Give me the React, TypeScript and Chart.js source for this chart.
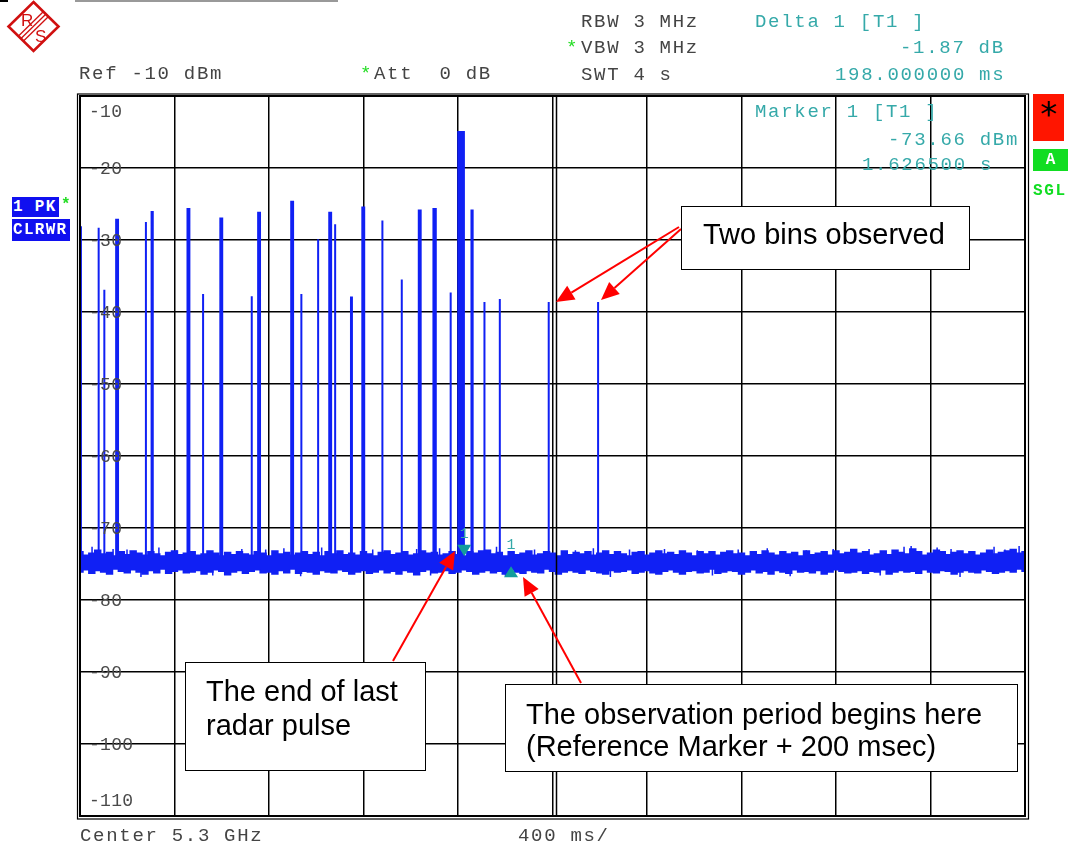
import React, { useEffect, useRef } from 'react';
import { Chart, registerables } from 'chart.js';

Chart.register(...registerables);

// Sweep axis: 0 .. 4 s, 400 ms per division
const sweepStart = 0;
const sweepEnd = 4;
const sweepDivision = 0.4;

// Level axis (dBm)
const levelTop = -10;
const levelBottom = -110;
const yTickValues = [-10, -20, -30, -40, -50, -60, -70, -80, -90, -100, -110];
const yTickLabels = ['-10', '-20', '-30', '-40', '-50', '-60', '-70', '-80', '-90', '-100', '-110'];

// Noise floor envelope, one sample every 25 ms (dBm)
const noiseStep = 0.025;
const noiseUpper = [
  -73.3, -73.8, -73.5, -73.1, -73.6, -73.4, -73.9, -73.3, -73.7, -73.2,
  -73.5, -73.8, -73.3, -73.6, -73.9, -73.4, -73.2, -73.7, -73.5, -73.3,
  -73.8, -73.6, -73.2, -73.5, -73.9, -73.4, -73.7, -73.3, -73.6, -73.8,
  -73.3, -73.5, -73.9, -73.2, -73.6, -73.4, -73.8, -73.5, -73.3, -73.7,
  -73.4, -73.9, -73.3, -73.6, -73.2, -73.7, -73.5, -73.8, -73.3, -73.6,
  -73.9, -73.4, -73.2, -73.7, -73.5, -73.3, -73.8, -73.6, -73.2, -73.5,
  -73.4, -73.8, -73.6, -73.3, -73.7, -73.9, -73.3, -73.5, -73.2, -73.1,
  -73.6, -73.4, -73.9, -73.3, -73.7, -73.5, -73.2, -73.8, -73.6, -73.3,
  -73.5, -73.9, -73.2, -73.7, -73.4, -73.6, -73.3, -73.8, -73.5, -73.2,
  -73.7, -73.3, -73.6, -73.9, -73.4, -73.3, -73.8, -73.5, -73.2, -73.6,
  -73.4, -73.7, -73.2, -73.5, -73.9, -73.3, -73.6, -73.3, -73.8, -73.4,
  -73.2, -73.6, -73.5, -73.9, -73.3, -73.7, -73.2, -73.5, -73.8, -73.3,
  -73.6, -73.4, -73.9, -73.2, -73.7, -73.5, -73.3, -73.8, -73.2, -73.6,
  -73.4, -73.0, -73.5, -73.3, -73.8, -73.6, -73.2, -73.7, -73.1, -73.4,
  -73.6, -72.9, -73.3, -73.8, -73.5, -73.1, -73.3, -73.7, -73.4, -73.2,
  -73.6, -73.3, -73.8, -73.5, -73.1, -73.6, -73.4, -73.2, -73.0, -73.5,
  -73.3,
];
const noiseLower = [
  -76.1, -75.8, -76.3, -75.9, -76.1, -76.4, -75.7, -76.0, -76.2, -75.8,
  -76.1, -76.4, -75.9, -76.2, -75.7, -76.3, -76.0, -75.8, -76.2, -76.1,
  -75.9, -76.4, -76.1, -75.8, -76.0, -76.5, -76.1, -75.9, -76.3, -76.0,
  -75.8, -76.2, -76.1, -76.4, -75.9, -76.2, -75.7, -76.3, -76.0, -76.1,
  -76.4, -75.9, -76.1, -76.2, -75.8, -76.0, -76.4, -76.1, -75.9, -76.3,
  -76.1, -75.8, -76.2, -76.0, -76.4, -75.9, -76.1, -76.5, -76.0, -75.8,
  -76.2, -76.1, -75.9, -76.3, -76.1, -75.8, -76.0, -76.4, -76.1, -75.9,
  -76.2, -76.0, -76.4, -75.8, -76.1, -76.3, -75.9, -76.1, -76.2, -75.7,
  -76.0, -76.4, -76.1, -75.9, -76.1, -76.3, -75.8, -76.0, -76.2, -76.4,
  -75.9, -76.1, -76.0, -75.8, -76.3, -76.1, -75.9, -76.2, -76.4, -76.0,
  -75.8, -76.1, -76.4, -76.0, -75.9, -76.2, -76.1, -75.7, -76.3, -76.1,
  -75.9, -76.0, -76.4, -76.1, -75.8, -76.2, -76.0, -76.4, -75.9, -76.1,
  -76.3, -75.8, -76.1, -76.0, -76.2, -75.9, -76.4, -76.1, -75.8, -76.0,
  -76.2, -76.1, -75.9, -76.3, -76.0, -76.1, -75.8, -76.4, -76.1, -75.9,
  -76.1, -76.0, -76.3, -75.8, -76.1, -76.2, -75.9, -76.0, -76.4, -76.1,
  -75.9, -76.1, -76.2, -75.8, -76.0, -76.3, -76.1, -75.9, -76.1, -75.7,
  -76.0,
];

// Single-sample glitches sticking out of the noise floor: time (s), level (dBm)
const glitchTime = [
  0.051, 0.140, 0.199, 0.334, 0.410, 0.685, 0.786, 0.863, 1.023, 1.239,
  1.425, 1.522, 1.763, 1.924, 2.097, 2.173, 2.326, 2.474, 2.613, 2.786,
  2.909, 3.074, 3.188, 3.340, 3.488, 3.518, 3.628, 3.687, 3.869, 3.915,
  3.975, 0.258, 0.562, 0.934, 1.484, 1.801, 2.245, 2.677, 3.006, 3.387,
  3.725,
];
const glitchLevel = [
  -72.6, -72.9, -73.0, -72.7, -73.1, -72.9, -73.0, -72.8, -72.7, -73.0,
  -72.9, -72.8, -72.6, -73.0, -73.1, -72.8, -73.0, -72.9, -73.1, -73.0,
  -72.8, -73.1, -72.9, -72.9, -72.6, -72.5, -72.7, -72.9, -72.6, -73.0,
  -72.5, -76.8, -76.6, -76.7, -76.6, -76.7, -76.8, -76.6, -76.7, -76.6,
  -76.8,
];
const glitchFoot = -74.8;

// Radar bursts: start time (s), duration (s), peak level (dBm)
const pulseStart = [
  0.004, 0.079, 0.103, 0.153, 0.279, 0.303, 0.455, 0.521, 0.594, 0.727,
  0.754, 0.894, 0.937, 1.008, 1.055, 1.080, 1.147, 1.195, 1.280, 1.362,
  1.434, 1.496, 1.569, 1.601, 1.657, 1.712, 1.777, 1.984, 2.193,
];
const pulseLength = [
  0, 0, 0, 0.008, 0, 0.005, 0.008, 0, 0.008, 0,
  0.008, 0.008, 0, 0, 0.008, 0, 0.004, 0.008, 0, 0,
  0.008, 0.010, 0, 0.024, 0.005, 0, 0, 0, 0,
];
const pulsePeak = [
  -28.1, -28.3, -36.9, -27.2, -27.5, -26.1, -25.7, -37.5, -27.0, -37.8,
  -26.2, -24.7, -37.5, -29.9, -26.2, -27.8, -38.0, -25.5, -27.3, -35.5,
  -25.9, -25.7, -37.3, -15.0, -25.9, -38.6, -38.2, -38.6, -38.6,
];
const pulseFoot = -74.6;

// Reference marker and delta marker (time in s, level in dBm)
const markerTime = [1.6265, 1.8245];
const markerLevel = [-73.66, -75.53];
const markerLabel = ['1', '1'];

const TRACE = '#1020f4';
const TEAL = '#35a9a9';
const MARKER = '#139c9c';

const analyzerOverlay = {
  id: 'analyzerOverlay',
  afterDraw(chart: any) {
    const { ctx, chartArea: a, scales } = chart;
    const xs = scales.x;
    const ys = scales.y;
    ctx.save();
    // double frame round the screen
    ctx.strokeStyle = '#000';
    ctx.lineWidth = 2;
    ctx.strokeRect(a.left, a.top, a.right - a.left, a.bottom - a.top);
    ctx.lineWidth = 1.2;
    ctx.strokeRect(a.left - 2.5, a.top - 2, a.right - a.left + 6, a.bottom - a.top + 5);
    // the centre graticule line is drawn twice
    const cx = Math.round(xs.getPixelForValue((sweepStart + sweepEnd) / 2)) + 3.5;
    ctx.lineWidth = 1.5;
    ctx.beginPath();
    ctx.moveTo(cx, a.top);
    ctx.lineTo(cx, a.bottom);
    ctx.stroke();

    // level labels inside the screen
    ctx.font = '18px "Liberation Mono", monospace';
    (ctx as any).letterSpacing = '0.3px';
    ctx.fillStyle = '#4a4a4a';
    ctx.textBaseline = 'middle';
    ctx.textAlign = 'left';
    yTickValues.forEach((v, i) => {
      let py = ys.getPixelForValue(v);
      if (py < a.top + 8) py = a.top + 15;
      if (py > a.bottom - 8) py = a.bottom - 16;
      ctx.fillText(yTickLabels[i], a.left + 9, py + 1);
    });

    // markers
    ctx.font = '15px "Liberation Mono", monospace';
    (ctx as any).letterSpacing = '0px';
    ctx.textAlign = 'center';
    markerTime.forEach((t, i) => {
      const px = xs.getPixelForValue(t);
      const py = ys.getPixelForValue(markerLevel[i]);
      ctx.fillStyle = MARKER;
      ctx.beginPath();
      if (i === 0) {
        ctx.moveTo(px - 7, py - 9.5);
        ctx.lineTo(px + 7, py - 9.5);
        ctx.lineTo(px, py + 2);
      } else {
        ctx.moveTo(px - 7, py + 9.5);
        ctx.lineTo(px + 7, py + 9.5);
        ctx.lineTo(px, py - 1.5);
      }
      ctx.closePath();
      ctx.fill();
      ctx.fillStyle = TEAL;
      ctx.fillText(markerLabel[i], px, i === 0 ? py - 20 : py - 23);
    });
    ctx.restore();
  },
};

const monoStyle = (left: number, cy: number, color: string): React.CSSProperties => ({
  position: 'absolute',
  left,
  top: cy - 9,
  fontFamily: '"Liberation Mono", monospace',
  fontSize: 19,
  letterSpacing: '1.7px',
  lineHeight: '20px',
  whiteSpace: 'pre',
  color,
});

const noteStyle = (left: number, top: number, width: number, height: number): React.CSSProperties => ({
  position: 'absolute',
  left,
  top,
  width,
  height,
  boxSizing: 'border-box',
  border: '1.5px solid #000',
  background: '#fff',
});

const noteText = (left: number, cy: number): React.CSSProperties => ({
  position: 'absolute',
  left,
  top: cy - 16,
  fontFamily: '"Liberation Sans", Arial, sans-serif',
  fontSize: 29,
  lineHeight: '34px',
  whiteSpace: 'pre',
  color: '#000',
});

const arrowLines: number[][] = [
  [679, 227, 556, 302],
  [681, 229, 601, 300],
  [393, 661, 455, 551],
  [581, 683, 523, 577],
];

function Arrow({ l }: { l: number[] }) {
  const [x1, y1, x2, y2] = l;
  const dx = x2 - x1;
  const dy = y2 - y1;
  const len = Math.hypot(dx, dy);
  const ux = dx / len;
  const uy = dy / len;
  const headL = 18;
  const headW = 8;
  const bx = x2 - ux * headL;
  const by = y2 - uy * headL;
  const pts = `${x2},${y2} ${bx - uy * headW},${by + ux * headW} ${bx + uy * headW},${by - ux * headW}`;
  return (
    <g>
      <line x1={x1} y1={y1} x2={bx} y2={by} stroke="#ff0000" strokeWidth={2} />
      <polygon points={pts} fill="#ff0000" />
    </g>
  );
}

export default function App() {
  const ref = useRef<HTMLCanvasElement | null>(null);

  useEffect(() => {
    if (!ref.current) return;
    const upper = noiseUpper.map((v, i) => ({ x: i * noiseStep, y: v }));
    const lower = noiseLower.map((v, i) => ({ x: i * noiseStep, y: v }));
    const bursts: { x: number; y: number | null }[] = [];
    pulseStart.forEach((t, i) => {
      const t2 = t + pulseLength[i];
      bursts.push(
        { x: t, y: pulseFoot },
        { x: t, y: pulsePeak[i] },
        { x: t2, y: pulsePeak[i] },
        { x: t2, y: pulseFoot },
        { x: t2, y: null }
      );
    });
    const glitches: { x: number; y: number | null }[] = [];
    glitchTime.forEach((t, i) => {
      glitches.push({ x: t, y: glitchFoot }, { x: t, y: glitchLevel[i] }, { x: t, y: null });
    });

    const chart = new Chart(ref.current, {
      type: 'line',
      data: {
        datasets: [
          {
            data: upper,
            borderColor: TRACE,
            backgroundColor: TRACE,
            borderWidth: 1.5,
            pointRadius: 0,
            stepped: 'middle',
            fill: '+1',
          },
          {
            data: lower,
            borderColor: TRACE,
            backgroundColor: TRACE,
            borderWidth: 1.5,
            pointRadius: 0,
            stepped: 'middle',
            fill: false,
          },
          {
            data: glitches as any,
            borderColor: TRACE,
            borderWidth: 1.5,
            pointRadius: 0,
            spanGaps: false,
            fill: false,
          },
          {
            data: bursts as any,
            borderColor: TRACE,
            backgroundColor: TRACE,
            borderWidth: 2,
            pointRadius: 0,
            spanGaps: false,
            fill: { value: pulseFoot },
          },
        ],
      },
      options: {
        animation: false,
        responsive: false,
        maintainAspectRatio: false,
        events: [],
        layout: { padding: { left: 80, top: 96, right: 47, bottom: 31 } },
        plugins: { legend: { display: false }, tooltip: { enabled: false } },
        elements: { line: { tension: 0 } },
        scales: {
          x: {
            type: 'linear',
            min: sweepStart,
            max: sweepEnd,
            ticks: { display: false, stepSize: sweepDivision },
            grid: { color: '#000', lineWidth: 1.5, drawTicks: false },
            border: { display: false },
          },
          y: {
            type: 'linear',
            min: levelBottom,
            max: levelTop,
            ticks: { display: false, stepSize: 10 },
            grid: { color: '#000', lineWidth: 1.5, drawTicks: false },
            border: { display: false },
          },
        },
      },
      plugins: [analyzerOverlay],
    });
    return () => chart.destroy();
  }, []);

  return (
    <div style={{ position: 'absolute', left: 0, top: 0, width: 1072, height: 847, background: '#fff', overflow: 'hidden' }}>
      <canvas ref={ref} width={1072} height={847} style={{ position: 'absolute', left: 0, top: 0 }} />

      {/* top strip */}
      <div style={{ position: 'absolute', left: 0, top: 0, width: 8, height: 2, background: '#000' }} />
      <div style={{ position: 'absolute', left: 75, top: 0, width: 263, height: 2, background: '#999' }} />

      {/* R&S logo */}
      <svg width={70} height={56} style={{ position: 'absolute', left: 0, top: 0 }}>
        <polygon points="33.5,2 58.5,26.5 33.5,51 8.5,26.5" fill="none" stroke="#d01010" strokeWidth={2.6} />
        <line x1={43.5} y1={11.5} x2={18.5} y2={36} stroke="#d01010" strokeWidth={1.3} />
        <line x1={46} y1={14} x2={21} y2={38.5} stroke="#d01010" strokeWidth={1.3} />
        <line x1={48.5} y1={16.5} x2={23.5} y2={41} stroke="#d01010" strokeWidth={1.3} />
        <text x={21} y={26} fontFamily="Liberation Sans, Arial, sans-serif" fontSize={17} fill="#d01010">R</text>
        <text x={35} y={42} fontFamily="Liberation Sans, Arial, sans-serif" fontSize={17} fill="#d01010">S</text>
      </svg>

      {/* instrument settings */}
      <div style={monoStyle(581, 21, '#444')}>RBW 3 MHz</div>
      <div style={monoStyle(566, 47, '#22dd22')}>*</div>
      <div style={monoStyle(581, 47, '#444')}>VBW 3 MHz</div>
      <div style={monoStyle(581, 74, '#444')}>SWT 4 s</div>
      <div style={monoStyle(79, 73, '#444')}>Ref -10 dBm</div>
      <div style={monoStyle(360, 73, '#22dd22')}>*</div>
      <div style={monoStyle(374, 73, '#444')}>Att  0 dB</div>

      <div style={monoStyle(755, 21, TEAL)}>Delta 1 [T1 ]</div>
      <div style={monoStyle(900, 47, TEAL)}>-1.87 dB</div>
      <div style={monoStyle(835, 74, TEAL)}>198.000000 ms</div>

      <div style={monoStyle(755, 111, TEAL)}>Marker 1 [T1 ]</div>
      <div style={monoStyle(888, 139, TEAL)}>-73.66 dBm</div>
      <div style={monoStyle(862, 164, TEAL)}>1.626500 s</div>

      <div style={monoStyle(80, 835, '#444')}>Center 5.3 GHz</div>
      <div style={monoStyle(518, 835, '#444')}>400 ms/</div>

      {/* trace badges */}
      <div style={{ position: 'absolute', left: 12, top: 197, width: 47, height: 20, background: '#1010f0', color: '#fff', fontFamily: '"Liberation Mono", monospace', fontWeight: 'bold', fontSize: 16, letterSpacing: '1.3px', lineHeight: '20px', paddingLeft: 1, boxSizing: 'border-box', whiteSpace: 'pre' }}>1 PK</div>
      <div style={{ position: 'absolute', left: 61, top: 195, color: '#22dd22', fontFamily: '"Liberation Mono", monospace', fontWeight: 'bold', fontSize: 16, lineHeight: '20px' }}>*</div>
      <div style={{ position: 'absolute', left: 12, top: 219, width: 58, height: 22, background: '#1010f0', color: '#fff', fontFamily: '"Liberation Mono", monospace', fontWeight: 'bold', fontSize: 16, letterSpacing: '1.3px', lineHeight: '22px', paddingLeft: 1, boxSizing: 'border-box' }}>CLRWR</div>

      <div style={{ position: 'absolute', left: 1033, top: 94, width: 31, height: 47, background: '#ff1500', color: '#000', fontFamily: '"DejaVu Sans", sans-serif', fontSize: 34, lineHeight: '40px', textAlign: 'center' }}>*</div>
      <div style={{ position: 'absolute', left: 1033, top: 149, width: 35, height: 22, background: '#11dd22', color: '#fff', fontFamily: '"Liberation Mono", monospace', fontWeight: 'bold', fontSize: 16, lineHeight: '22px', textAlign: 'center' }}>A</div>
      <div style={{ position: 'absolute', left: 1033, top: 181, color: '#11dd22', fontFamily: '"Liberation Mono", monospace', fontWeight: 'bold', fontSize: 16, letterSpacing: '1.6px', lineHeight: '20px' }}>SGL</div>

      {/* annotations */}
      <svg width={1072} height={847} style={{ position: 'absolute', left: 0, top: 0, pointerEvents: 'none' }}>
        {arrowLines.map((l, i) => (
          <Arrow key={i} l={l} />
        ))}
      </svg>
      <div style={noteStyle(681, 206, 289, 64)} />
      <div style={noteText(703, 233)}>Two bins observed</div>

      <div style={noteStyle(185, 662, 241, 109)} />
      <div style={noteText(206, 690)}>The end of last</div>
      <div style={noteText(206, 724)}>radar pulse</div>

      <div style={noteStyle(505, 684, 513, 88)} />
      <div style={noteText(526, 713)}>The observation period begins here</div>
      <div style={noteText(526, 745)}>(Reference Marker + 200 msec)</div>
    </div>
  );
}
